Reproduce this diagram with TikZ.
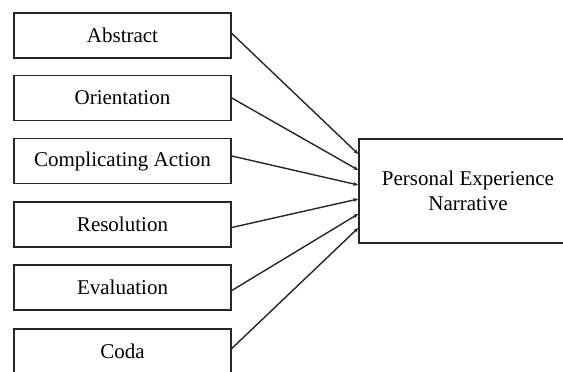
\documentclass[tikz,border=0pt]{standalone}
\usepackage{fontspec}
\setmainfont{Liberation Serif}
\usetikzlibrary{arrows.meta}
\begin{document}
\begin{tikzpicture}[x=1pt,y=-1pt,
  box/.style={draw=black!85,line width=1.6pt,rectangle,inner sep=0pt,
    font=\fontsize{21}{25}\selectfont,align=center},
  small/.style={box,minimum width=217pt,minimum height=45pt},
  big/.style={box,minimum width=218pt,minimum height=104pt},
  conn/.style={draw=black!85,line width=1.4pt,-{Stealth[length=5pt,width=4pt]}}]
\useasboundingbox (0,0) rectangle (563,372);
\clip (0,0) rectangle (563,372);
\node[small] (a) at (122.5,35.5) {Abstract};
\node[small] (o) at (122.5,98) {Orientation};
\node[small] (c) at (122.5,161) {Complicating Action};
\node[small] (r) at (122.5,224.5) {Resolution};
\node[small] (e) at (122.5,287.5) {Evaluation};
\node[small] (d) at (122.5,351.5) {Coda};
\node[big] (p) at (468,191) {Personal Experience\\Narrative};
\draw[conn] ([yshift=2pt]a.east) -- ([yshift=37pt]p.west);
\draw[conn] (o.east) -- ([yshift=21pt]p.west);
\draw[conn] ([yshift=5pt]c.east) -- ([yshift=6pt]p.west);
\draw[conn] ([yshift=-3pt]r.east) -- ([yshift=-8pt]p.west);
\draw[conn] ([yshift=-3pt]e.east) -- ([yshift=-23pt]p.west);
\draw[conn] ([yshift=3pt]d.east) -- ([yshift=-37pt]p.west);
\end{tikzpicture}
\end{document}
